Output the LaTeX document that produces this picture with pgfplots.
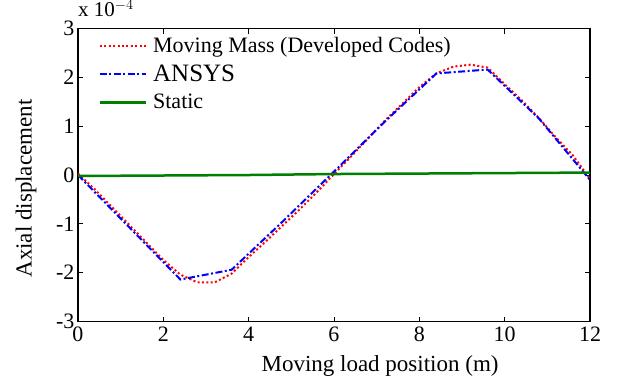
\documentclass[border=0pt]{standalone}
\usepackage{pgfplots}
\pgfplotsset{compat=1.18}
\usepackage{fontspec}
\setmainfont{Liberation Serif}
\definecolor{mred}{RGB}{255,0,0}
\definecolor{mblue}{RGB}{0,0,255}
\definecolor{mgreen}{RGB}{0,128,0}
\begin{document}
\begin{tikzpicture}
\begin{axis}[
  scale only axis, width=512pt, height=293pt,
  xmin=0, xmax=12, ymin=-3, ymax=3,
  xtick={0,2,...,12}, ytick={-3,-2,...,3},
  xticklabels={0,2,4,6,8,10,12},
  yticklabels={-3,-2,-1,0,1,2,3},
  tick align=inside, major tick length=5pt,
  tick style={black, line width=0.8pt},
  axis line style={line width=1.2pt},
  ticklabel style={font=\rmfamily\fontsize{22}{24}\selectfont},
  xticklabel style={yshift=-2pt},
  xlabel={Moving load position (m)},
  ylabel={Axial displacement},
  label style={font=\fontsize{23}{26}\selectfont},
  xlabel style={at={(axis description cs:0.59,0)}, anchor=north, yshift=-30pt},
  ylabel style={at={(axis description cs:0,0.454)}, anchor=south, yshift=38pt},
  legend style={draw=none, fill=none, at={(rel axis cs:0.038,0.98)}, anchor=north west,
    font=\fontsize{22}{24}\selectfont, row sep=7pt, inner sep=1pt,
    nodes={inner xsep=6pt}},
  legend cell align=left,
  legend image code/.code={\draw[#1] (0pt,0pt) -- (46pt,0pt);},
  clip=false,
]
\addplot[mred, line width=2pt, dash pattern=on 2pt off 2.4pt] coordinates {
(0,0.03) (0.4,-0.3) (0.8,-0.66) (1.2,-1.02) (1.6,-1.38) (2.0,-1.74) (2.4,-2.04)
(2.8,-2.2) (3.2,-2.2) (3.6,-2.02) (4.0,-1.68) (4.4,-1.36) (4.8,-1.03) (5.2,-0.7)
(5.6,-0.35) (6.0,0.02) (6.4,0.38) (6.8,0.75) (7.2,1.12) (7.6,1.46) (8.0,1.8)
(8.4,2.08) (8.8,2.22) (9.2,2.26) (9.6,2.2) (10.0,1.86) (10.4,1.53) (10.8,1.17)
(11.2,0.77) (11.6,0.4) (12,-0.08)};
\addlegendentry{Moving Mass (Developed Codes)}
\addplot[mblue, line width=2pt, dash pattern=on 7pt off 2.5pt on 2pt off 2.5pt] coordinates {
(0,0) (1.2,-1.07) (2.4,-2.14) (3.6,-1.94) (4.8,-0.95) (6.0,0.07) (7.2,1.1)
(8.4,2.08) (9.6,2.16) (10.8,1.16) (12,-0.1)};
\addlegendentry{\fontsize{25}{27}\selectfont ANSYS}
\addplot[mgreen, line width=2.5pt] coordinates {
(0,-0.02) (2,-0.01) (4,0.0) (6,0.02) (8,0.03) (10,0.04) (12,0.05)};
\addlegendentry{Static}
\node[anchor=base west, font=\fontsize{21}{24}\selectfont, inner sep=0pt] at (rel axis cs:0.0,1.04) {x 10$^{-4}$};
\end{axis}
\path (-78pt,-57pt) rectangle (547pt,319pt);
\end{tikzpicture}
\end{document}
